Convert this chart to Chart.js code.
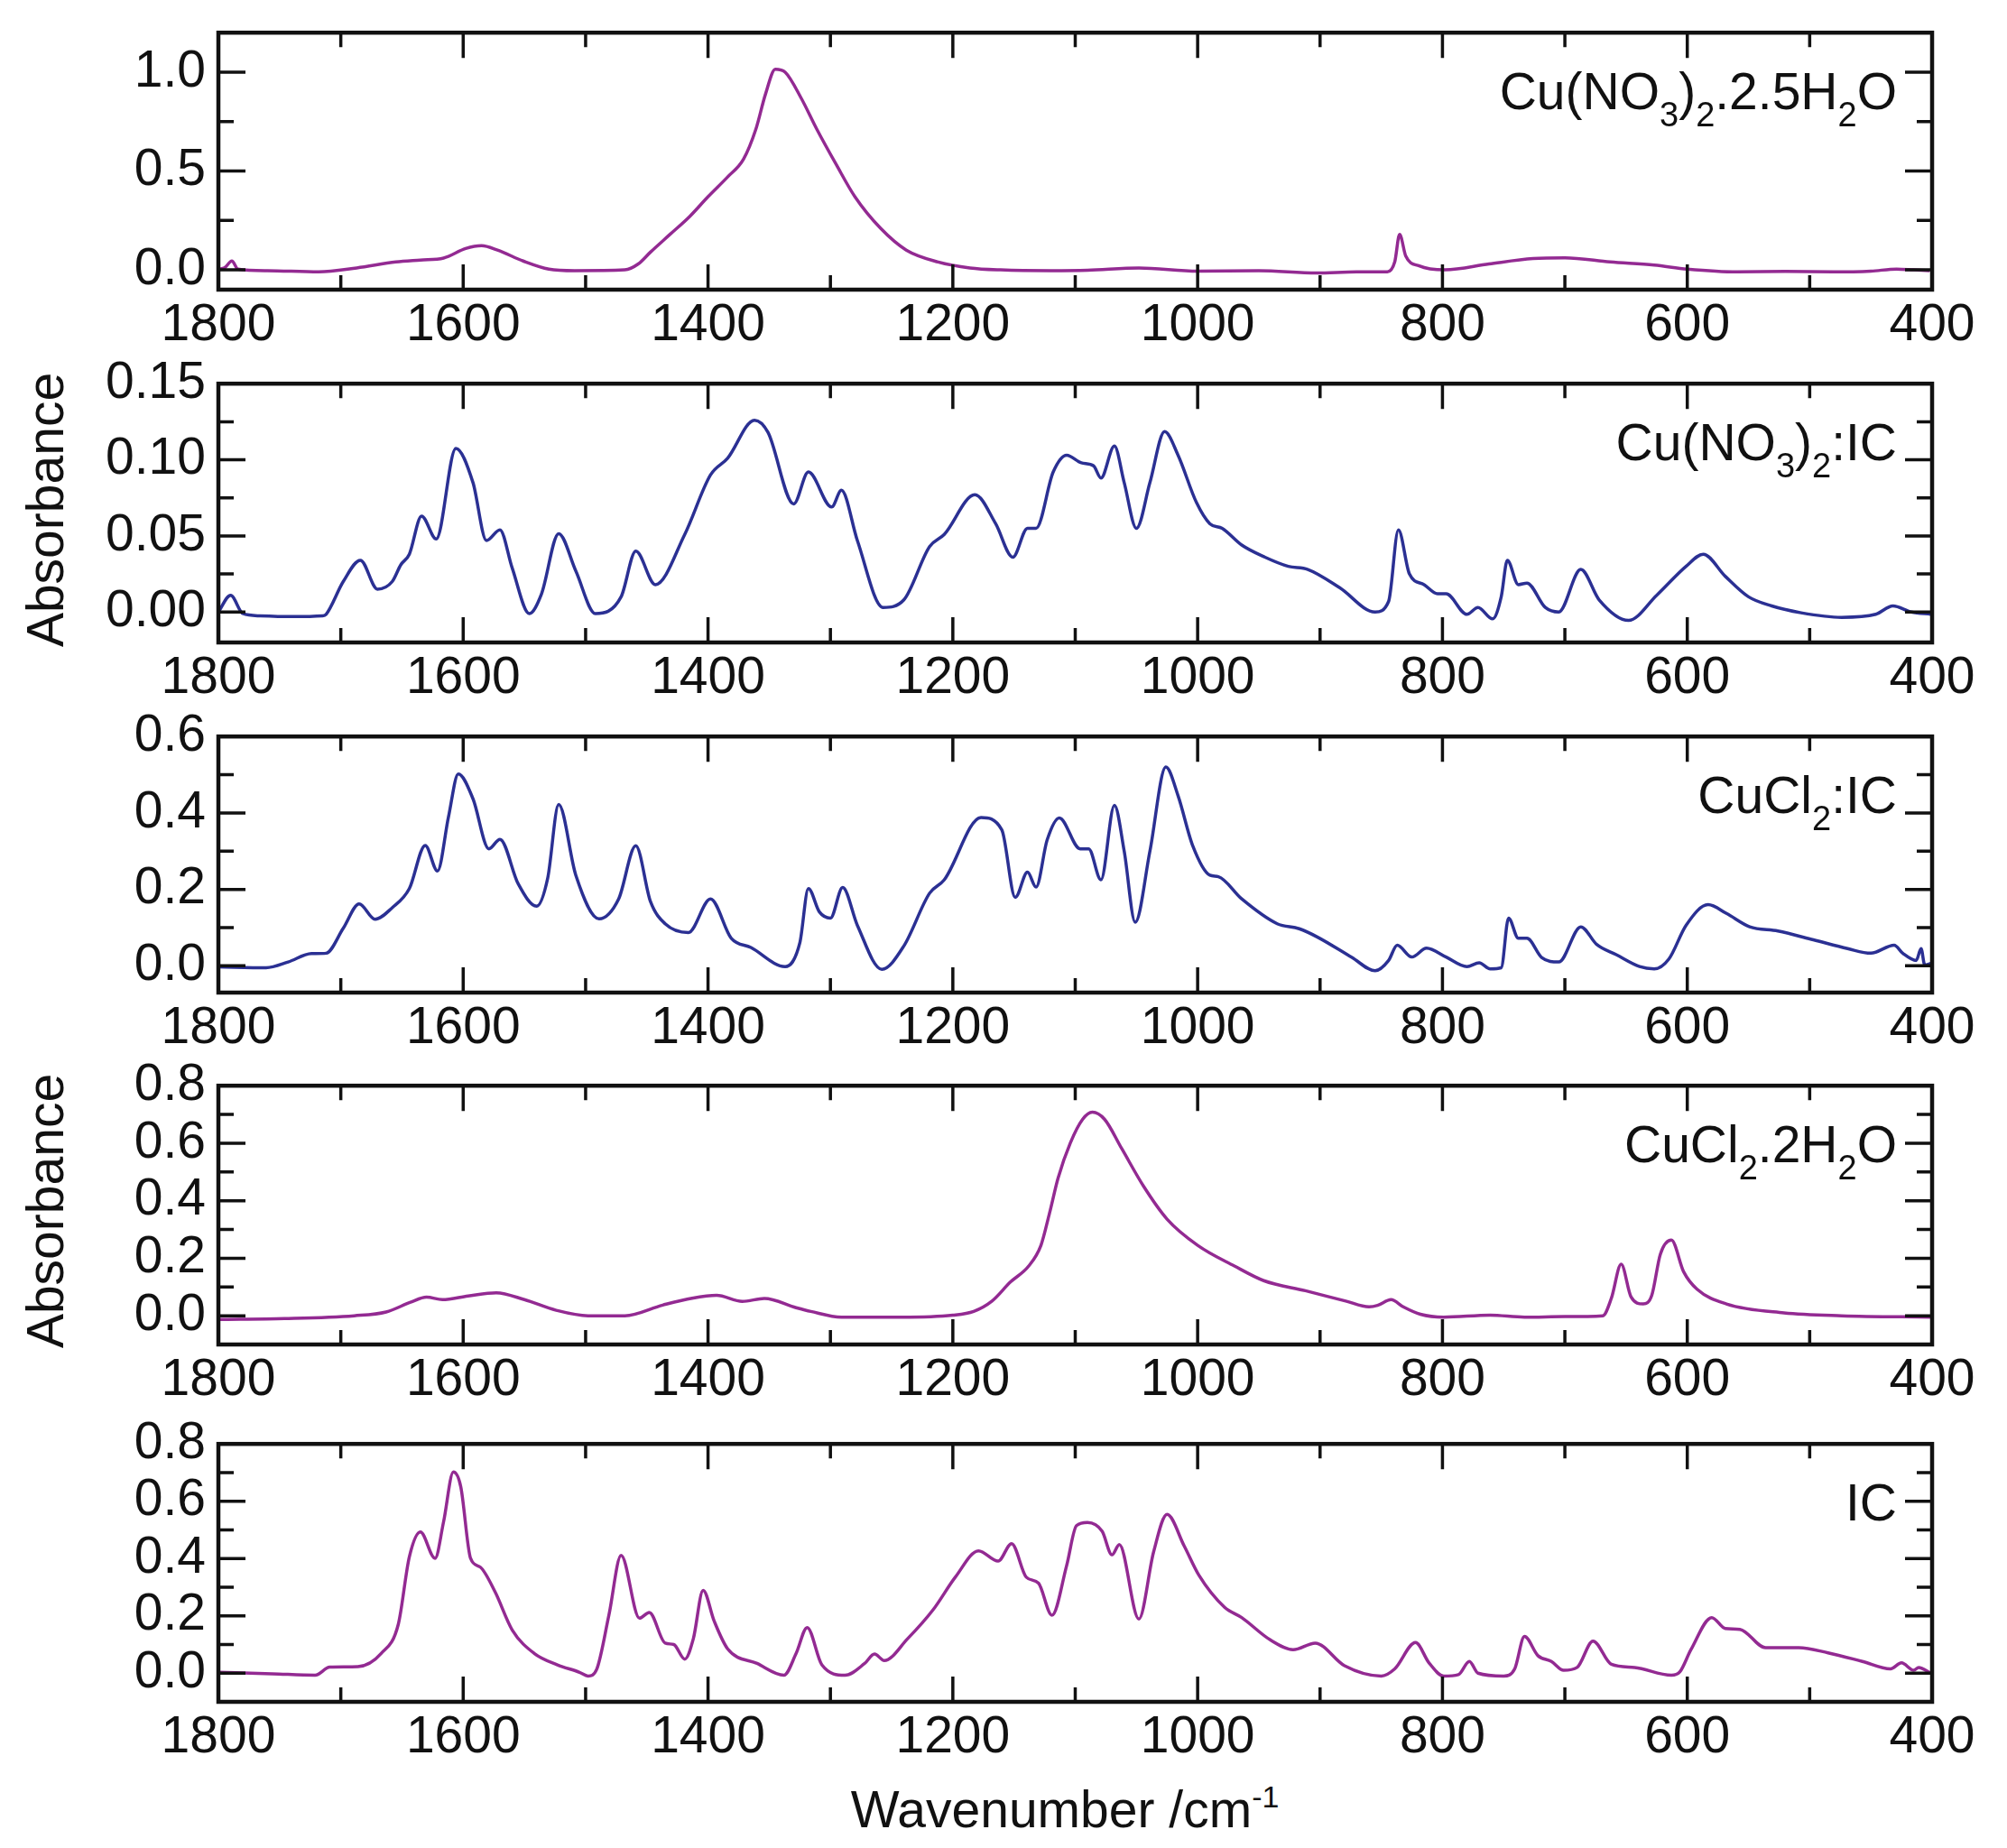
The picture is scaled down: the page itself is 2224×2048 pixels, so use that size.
<!DOCTYPE html>
<html>
<head>
<meta charset="UTF-8">
<title>IR spectra</title>
<script src="https://cdn.jsdelivr.net/npm/chart.js@4.4.4/dist/chart.umd.min.js"></script>
<style>
  html, body { margin: 0; padding: 0; background: #fff; }
  #page { position: relative; width: 2224px; height: 2048px; overflow: hidden; background: #fff;
          font-family: Arial, "Liberation Sans", sans-serif; color: #111; }
  .panel { position: absolute; left: 0; width: 2224px; }
  .tag { position: absolute; right: 122px; font-size: 57px; line-height: 1; white-space: nowrap; }
  .tag sub { font-size: 38px; vertical-align: -19px; line-height: 0; }
  .ytitle { position: absolute; font-size: 57px; line-height: 1; white-space: nowrap;
            transform: translate(-50%, -50%) rotate(-90deg); }
  #xtitle { position: absolute; left: 1180px; top: 2005px; font-size: 57px; line-height: 1;
            white-space: nowrap; transform: translate(-50%, -50%); }
  #xtitle sup { font-size: 34px; vertical-align: 22px; line-height: 0; }
</style>
</head>
<body>
<div id="page">
  <div class="ytitle" style="left:50px; top:565px;">Absorbance</div>
  <div class="ytitle" style="left:50px; top:1342px;">Absorbance</div>
  <div id="xtitle">Wavenumber /cm<sup>-1</sup></div>
</div>

<script>
  // ---- x axis (wavenumber, cm-1) ----
  const xMajor = [1800, 1600, 1400, 1200, 1000, 800, 600, 400];
  const xMinor = [1700, 1500, 1300, 1100, 900, 700, 500];

  // ---- Cu(NO3)2.2.5H2O ----
  const wnNitrateHyd = [1800,1795,1789,1784,1760,1718,1687,1655,1635,1616,1598,1585,1572,1551,1530,1509,
    1468,1457,1447,1431,1415,1400,1384,1371,1361,1353,1345,1337,1324,1311,1295,1280,1259,1238,1212,1186,
    1161,1120,1090,1048,1000,950,903,870,845,839,835,830,819,798,762,726,700,663,627,600,559,520,481,450,
    429,415,402];
  const absNitrateHyd = [0.004,0.01,0.045,0.004,-0.004,-0.01,0.01,0.04,0.05,0.06,0.108,0.122,0.10,0.045,0.004,-0.004,
    0.0,0.03,0.09,0.18,0.27,0.37,0.47,0.56,0.71,0.89,1.015,1.00,0.87,0.71,0.53,0.37,0.21,0.10,0.04,0.01,
    0.0,-0.004,-0.002,0.01,-0.006,-0.004,-0.016,-0.01,-0.01,0.04,0.18,0.07,0.02,0.0,0.03,0.057,0.061,0.04,0.024,0.004,-0.01,-0.008,-0.01,-0.006,
    0.004,0.0,-0.004];
  const yTicksNitrateHyd = [0, 0.5, 1.0];
  const yMinorNitrateHyd = [0.25, 0.75];

  // ---- Cu(NO3)2:IC ----
  const wnNitrateIC = [1800,1790,1780,1766,1740,1715,1712,1698,1684,1670,
    1658,1651,1644,1634,1622,1606,1592,1581,1570,1560,
    1546,1536,1522,1508,1492,1471,1459,1443,1419,1398,
    1384,1362,1351,1330,1318,1299,1291,1278,1257,1240,
    1219,1207,1182,1165,1151,1139,1132,1118,1107,1095,
    1085,1079,1068,1060,1050,1039,1027,1016,1001,990,
    980,964,945,926,910,884,855,844,836,827,
    815,804,797,780,771,759,752,747,738,731,
    716,705,687,672,648,625,601,587,569,550,
    531,507,474,446,432,417,401];
  const absNitrateIC = [0.0,0.011,-0.001,-0.0025,-0.003,-0.0025,-0.0015,0.020,0.034,0.015,
    0.020,0.031,0.038,0.063,0.048,0.1075,0.085,0.047,0.054,0.029,
    -0.001,0.012,0.0515,0.027,-0.001,0.010,0.040,0.018,0.051,0.090,
    0.101,0.126,0.118,0.071,0.092,0.069,0.080,0.047,0.003,0.008,
    0.043,0.051,0.077,0.058,0.036,0.055,0.055,0.092,0.103,0.098,
    0.096,0.088,0.109,0.085,0.055,0.085,0.1185,0.103,0.072,0.058,
    0.055,0.044,0.036,0.030,0.028,0.016,0.000,0.007,0.054,0.025,
    0.018,0.012,0.012,-0.0015,0.003,-0.0045,0.010,0.034,0.018,0.019,
    0.003,0.000,0.028,0.008,-0.0055,0.011,0.030,0.038,0.0235,0.010,
    0.004,-0.0005,-0.0035,-0.0015,0.004,0.000,-0.0015];
  const yTicksNitrateIC = [0, 0.05, 0.10, 0.15];
  const yMinorNitrateIC = [0.025, 0.075, 0.125];

  // ---- CuCl2:IC ----
  const wnChlorideIC = [1800,1761,1743,1724,1712,1698,1685,1672,1658,1644,
    1631,1621,1612,1604,1592,1579,1570,1555,1540,1531,
    1522,1508,1489,1473,1459,1447,1435,1416,1398,1381,
    1365,1337,1325,1318,1309,1300,1290,1278,1258,1240,
    1219,1207,1177,1160,1149,1139,1132,1123,1113,1096,
    1089,1079,1068,1060,1051,1039,1026,1016,1004,990,
    983,964,935,917,902,874,855,844,837,825,
    813,797,780,770,761,752,746,738,731,719,
    705,687,674,658,639,627,615,601,583,568,
    549,526,497,469,450,431,424,413,409,406,
    401];
  const absChlorideIC = [-0.003,-0.005,0.010,0.032,0.033,0.098,0.162,0.122,0.152,0.202,
    0.315,0.248,0.39,0.502,0.437,0.306,0.331,0.214,0.156,0.229,
    0.422,0.237,0.123,0.175,0.314,0.168,0.11,0.087,0.175,0.072,
    0.048,-0.002,0.06,0.202,0.141,0.125,0.205,0.106,-0.009,0.052,
    0.19,0.225,0.388,0.356,0.179,0.245,0.206,0.329,0.387,0.306,
    0.306,0.225,0.42,0.30,0.114,0.30,0.52,0.445,0.314,0.237,
    0.233,0.175,0.11,0.097,0.075,0.022,-0.013,0.014,0.054,0.023,
    0.046,0.023,-0.002,0.008,-0.008,-0.005,0.125,0.072,0.072,0.022,
    0.01,0.102,0.056,0.029,-0.002,-0.008,0.018,0.106,0.16,0.137,
    0.102,0.091,0.068,0.045,0.033,0.054,0.033,0.014,0.045,0.002,
    0.006];
  const yTicksChlorideIC = [0, 0.2, 0.4, 0.6];
  const yMinorChlorideIC = [0.1, 0.3, 0.5];

  // ---- CuCl2.2H2O ----
  const wnChlorideHyd = [1800,1746,1689,1663,1643,1630,1617,1596,1573,1550,
    1524,1498,1468,1437,1413,1393,1372,1354,1328,1316,
    1291,1242,1200,1183,1168,1153,1138,1128,1121,1114,
    1104,1094,1086,1076,1062,1044,1025,1000,970,946,
    912,879,860,853,842,832,818,799,761,733,
    700,669,662,654,646,636,629,622,613,603,
    592,568,521,474,401];
  const absChlorideHyd = [-0.013,-0.01,0.0,0.013,0.047,0.065,0.056,0.069,0.08,0.056,
    0.019,0.0,0.0,0.037,0.061,0.071,0.05,0.06,0.028,0.015,
    -0.005,-0.005,0.002,0.015,0.051,0.117,0.173,0.245,0.357,0.479,
    0.601,0.683,0.708,0.683,0.581,0.449,0.336,0.245,0.173,0.122,
    0.087,0.051,0.031,0.036,0.056,0.031,0.005,-0.005,0.002,-0.005,
    -0.003,0.0,0.061,0.179,0.066,0.041,0.071,0.214,0.263,0.153,
    0.092,0.041,0.010,0.0,-0.005];
  const yTicksChlorideHyd = [0, 0.2, 0.4, 0.6, 0.8];
  const yMinorChlorideHyd = [0.1, 0.3, 0.5, 0.7];

  // ---- IC ----
  const wnIC = [1800,1756,1721,1709,1686,1667,1653,1644,1635,1623,
    1616,1608,1602,1594,1586,1574,1560,1542,1523,1505,
    1498,1491,1481,1471,1456,1448,1435,1428,1419,1412,
    1404,1395,1384,1360,1338,1328,1319,1307,1288,1272,
    1264,1256,1237,1216,1198,1179,1163,1152,1140,1130,
    1119,1107,1099,1090,1078,1070,1064,1048,1036,1025,
    1011,999,978,964,941,922,904,880,850,839,
    822,811,799,787,778,771,750,741,733,722,
    711,701,690,677,662,643,613,606,597,580,
    569,557,536,509,485,457,434,425,415,411,
    401];
  const absIC = [0.003,-0.002,-0.007,0.021,0.023,0.069,0.171,0.406,0.493,0.401,
    0.529,0.702,0.651,0.401,0.370,0.284,0.151,0.069,0.029,0.003,
    -0.01,0.013,0.202,0.411,0.192,0.212,0.105,0.1,0.049,0.12,
    0.289,0.182,0.085,0.034,-0.007,0.069,0.159,0.029,-0.007,0.034,
    0.067,0.044,0.12,0.222,0.335,0.427,0.391,0.452,0.335,0.314,
    0.202,0.376,0.515,0.526,0.495,0.413,0.449,0.189,0.423,0.554,
    0.444,0.342,0.230,0.194,0.117,0.082,0.105,0.026,-0.01,0.015,
    0.107,0.036,-0.01,-0.005,0.041,0.0,-0.01,0.015,0.128,0.061,
    0.041,0.01,0.02,0.112,0.031,0.02,-0.007,0.005,0.082,0.194,
    0.156,0.153,0.089,0.089,0.071,0.041,0.015,0.036,0.01,0.02,
    0.0];
  const yTicksIC = [0, 0.2, 0.4, 0.6, 0.8];
  const yMinorIC = [0.1, 0.3, 0.5, 0.7];

  const MAGENTA = '#932a92';
  const BLUE = '#2b3093';
  const FONT = 'Arial, "Liberation Sans", sans-serif';

  // panel layout: plot area top/bottom in page pixels
  const panels = [
    { top: 28,   bottom: 321,  wn: wnNitrateHyd,  abs: absNitrateHyd,  color: MAGENTA, yMin: -0.10, yMax: 1.20,
      major: yTicksNitrateHyd, minor: yMinorNitrateHyd, dec: 1,
      tag: 'Cu(NO<sub>3</sub>)<sub>2</sub>.2.5H<sub>2</sub>O' },
    { top: 417,  bottom: 712,  wn: wnNitrateIC,   abs: absNitrateIC,   color: BLUE,    yMin: -0.02, yMax: 0.15,
      major: yTicksNitrateIC, minor: yMinorNitrateIC, dec: 2,
      tag: 'Cu(NO<sub>3</sub>)<sub>2</sub>:IC' },
    { top: 808,  bottom: 1100, wn: wnChlorideIC,  abs: absChlorideIC,  color: BLUE,    yMin: -0.07, yMax: 0.60,
      major: yTicksChlorideIC, minor: yMinorChlorideIC, dec: 1,
      tag: 'CuCl<sub>2</sub>:IC' },
    { top: 1195, bottom: 1490, wn: wnChlorideHyd, abs: absChlorideHyd, color: MAGENTA, yMin: -0.10, yMax: 0.80,
      major: yTicksChlorideHyd, minor: yMinorChlorideHyd, dec: 1,
      tag: 'CuCl<sub>2</sub>.2H<sub>2</sub>O' },
    { top: 1592, bottom: 1886, wn: wnIC,          abs: absIC,          color: MAGENTA, yMin: -0.10, yMax: 0.80,
      major: yTicksIC, minor: yMinorIC, dec: 1,
      tag: 'IC' }
  ];

  const PAD_TOP = 40, X_AXIS_H = 90, Y_AXIS_W = 242, PAD_RIGHT = 83;

  // frame with inward ticks on all four sides
  const framePlugin = {
    id: 'frame',
    afterDraw(chart) {
      const { ctx, chartArea: a, scales: { x, y } } = chart;
      const p = chart.options.plugins.frame;
      ctx.save();
      ctx.strokeStyle = '#111';
      ctx.lineWidth = 3.5;
      ctx.beginPath();
      const xt = (v, len) => {
        const px = x.getPixelForValue(v);
        ctx.moveTo(px, a.bottom); ctx.lineTo(px, a.bottom - len);
        ctx.moveTo(px, a.top);    ctx.lineTo(px, a.top + len);
      };
      const yt = (v, len) => {
        const py = y.getPixelForValue(v);
        ctx.moveTo(a.left, py);  ctx.lineTo(a.left + len, py);
        ctx.moveTo(a.right, py); ctx.lineTo(a.right - len, py);
      };
      xMajor.forEach(v => xt(v, 28));
      xMinor.forEach(v => xt(v, 16));
      p.major.forEach(v => yt(v, 30));
      p.minor.forEach(v => yt(v, 17));
      ctx.stroke();
      ctx.lineWidth = 4.5;
      ctx.strokeRect(a.left, a.top, a.right - a.left, a.bottom - a.top);
      ctx.restore();
    }
  };

  const page = document.getElementById('page');

  panels.forEach(p => {
    const h = (p.bottom - p.top) + PAD_TOP + X_AXIS_H;
    const wrap = document.createElement('div');
    wrap.className = 'panel';
    wrap.style.top = (p.top - PAD_TOP) + 'px';
    wrap.style.height = h + 'px';
    const canvas = document.createElement('canvas');
    canvas.width = 2224;
    canvas.height = h;
    wrap.appendChild(canvas);
    page.appendChild(wrap);

    const tag = document.createElement('div');
    tag.className = 'tag';
    tag.style.top = (p.top + 45) + 'px';
    tag.innerHTML = p.tag;
    page.appendChild(tag);

    const points = p.wn.map((w, i) => ({ x: w, y: p.abs[i] }));

    new Chart(canvas, {
      type: 'line',
      data: {
        datasets: [{
          data: points,
          borderColor: p.color,
          borderWidth: 3.5,
          pointRadius: 0,
          cubicInterpolationMode: 'monotone',
          fill: false
        }]
      },
      options: {
        responsive: false,
        animation: false,
        devicePixelRatio: 1,
        layout: { padding: { top: PAD_TOP, right: PAD_RIGHT, bottom: 0, left: 0 } },
        plugins: {
          legend: { display: false },
          tooltip: { enabled: false },
          frame: { major: p.major, minor: p.minor }
        },
        scales: {
          x: {
            type: 'linear',
            reverse: true,
            min: 400,
            max: 1800,
            grid: { display: false, drawTicks: false },
            border: { display: false },
            afterBuildTicks: s => { s.ticks = xMajor.map(v => ({ value: v })); },
            afterFit: s => { s.height = X_AXIS_H; },
            ticks: {
              autoSkip: false,
              maxRotation: 0,
              padding: 6,
              color: '#111',
              font: { family: FONT, size: 57 },
              callback: v => String(v)
            }
          },
          y: {
            type: 'linear',
            min: p.yMin,
            max: p.yMax,
            grid: { display: false, drawTicks: false },
            border: { display: false },
            afterBuildTicks: s => { s.ticks = p.major.map(v => ({ value: v })); },
            afterFit: s => { s.width = Y_AXIS_W; },
            ticks: {
              autoSkip: false,
              padding: 14,
              color: '#111',
              font: { family: FONT, size: 57 },
              callback: v => Number(v).toFixed(p.dec)
            }
          }
        }
      },
      plugins: [framePlugin]
    });
  });
</script>
</body>
</html>
